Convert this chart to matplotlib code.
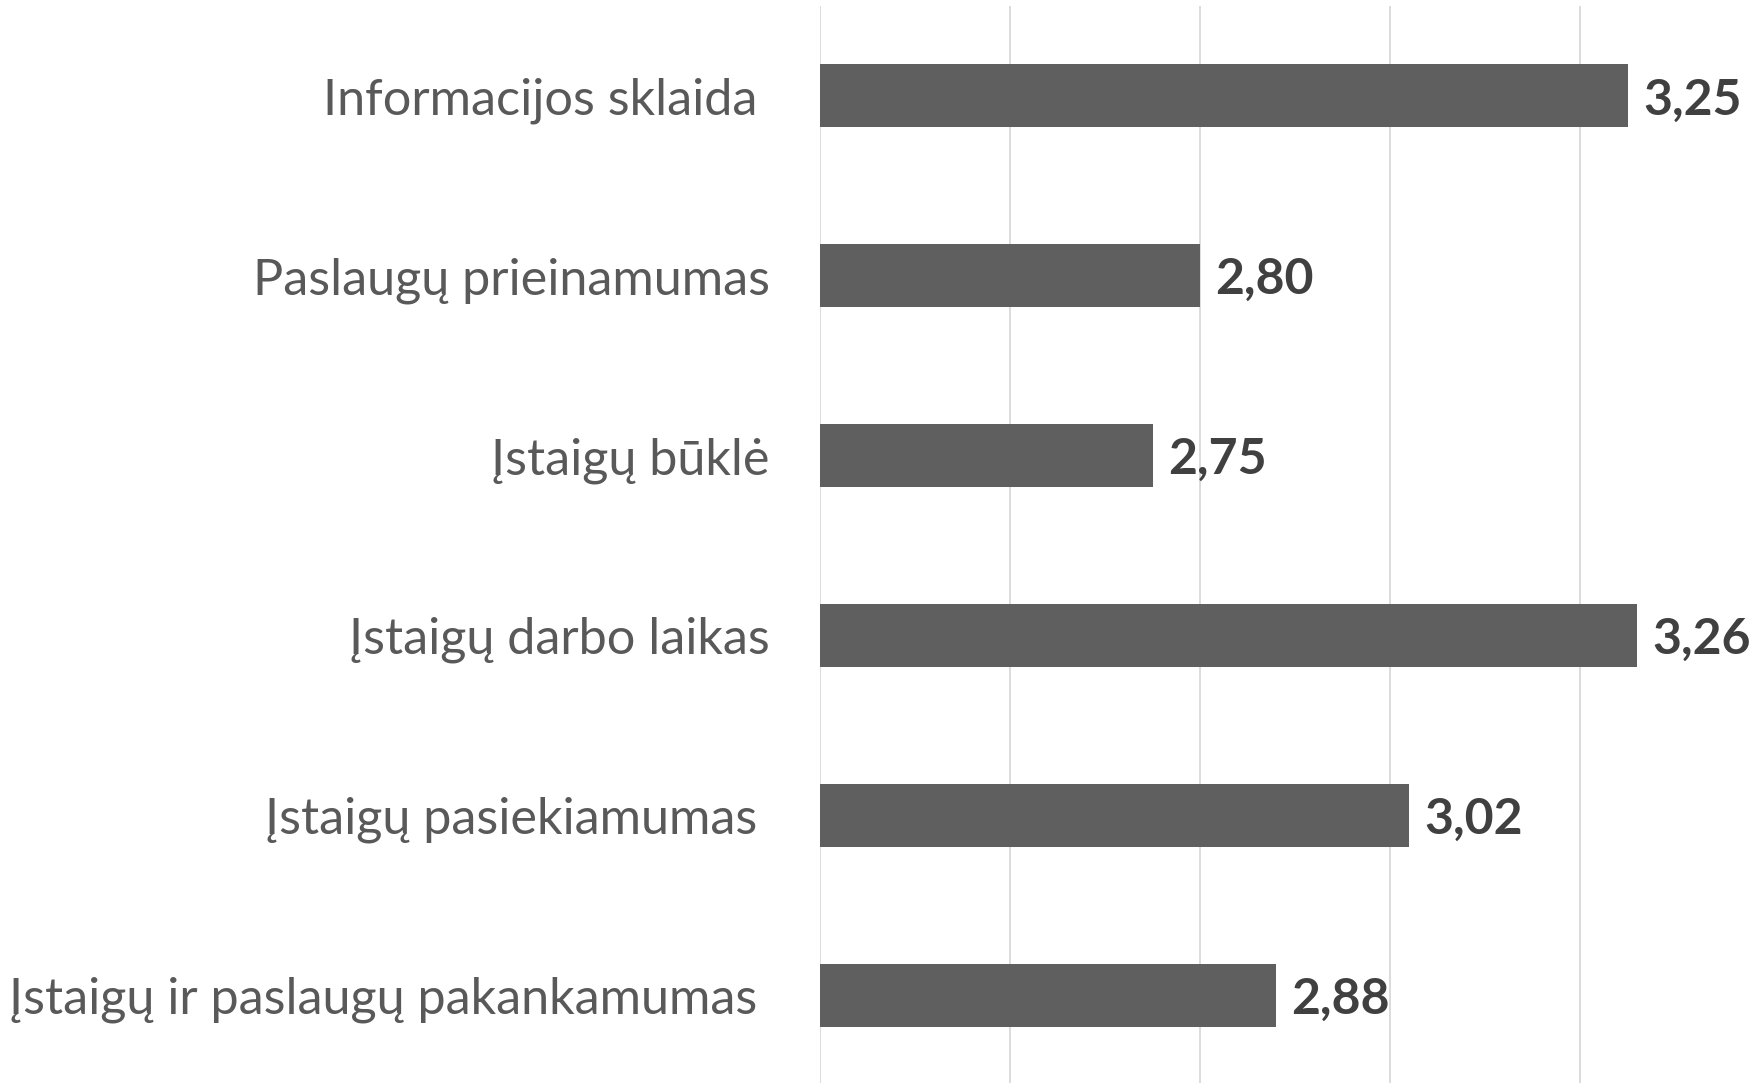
import matplotlib.pyplot as plt

categories = [
    "Informacijos sklaida ",
    "Paslaugų prieinamumas",
    "Įstaigų būklė",
    "Įstaigų darbo laikas",
    "Įstaigų pasiekiamumas ",
    "Įstaigų ir paslaugų pakankamumas ",
]
values = [3.25, 2.80, 2.75, 3.26, 3.02, 2.88]
value_labels = ["3,25", "2,80", "2,75", "3,26", "3,02", "2,88"]

plt.rcParams['font.family'] = ['Lato', 'DejaVu Sans']

fig = plt.figure(figsize=(17.54, 10.83), dpi=100)
ax = fig.add_axes([0.4675, -0.002, 0.5325, 0.9965])

ypos = list(range(len(categories)))
ax.barh(ypos, [v - 2.4 for v in values], left=2.4, height=0.35,
        color="#5f5f5f", zorder=2)

for y, v, lab in zip(ypos, values, value_labels):
    ax.annotate(lab, (v, y), xytext=(11, 0), textcoords="offset points",
                va="center_baseline", ha="left", fontsize=36, fontweight="bold",
                color="#404040")

ax.set_xlim(2.4, 3.383)
ax.set_ylim(len(categories) - 0.5, -0.5)
ax.set_xticks([2.4, 2.6, 2.8, 3.0, 3.2])
ax.set_xticklabels([])
ax.grid(axis="x", color="#d9d9d9", linewidth=1.3, zorder=0)
ax.set_yticks(ypos)
ax.set_yticklabels(categories, fontsize=36.3, color="#595959",
                   va="center_baseline")
ax.tick_params(axis="y", length=0, pad=36)
ax.tick_params(axis="x", length=0)
for s in ax.spines.values():
    s.set_visible(False)

fig.savefig("out.png", dpi=100)
